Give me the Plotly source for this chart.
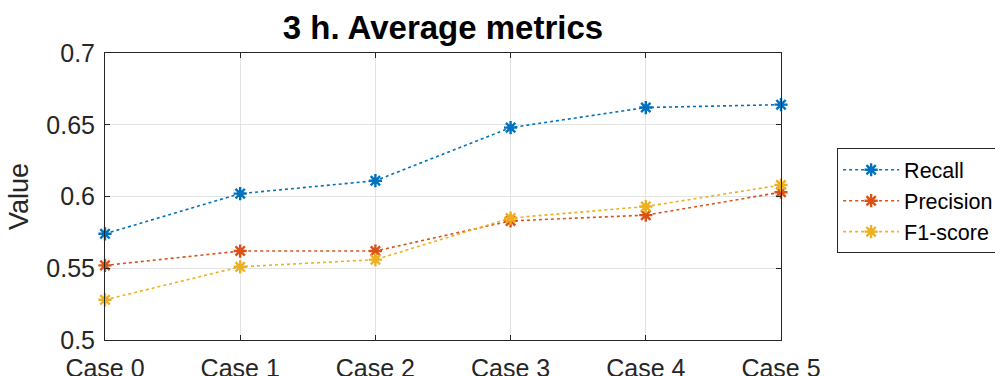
import plotly.graph_objects as go

cases = ["Case 0", "Case 1", "Case 2", "Case 3", "Case 4", "Case 5"]
recall = [0.574, 0.602, 0.611, 0.648, 0.662, 0.664]
precision = [0.552, 0.562, 0.562, 0.583, 0.587, 0.603]
f1_score = [0.528, 0.551, 0.556, 0.585, 0.593, 0.608]

series = [
    ("Recall", recall, "#0072BD"),
    ("Precision", precision, "#D95319"),
    ("F1-score", f1_score, "#EDB120"),
]

x_pos = list(range(len(cases)))
FAMILY = "Liberation Sans, Arial, sans-serif"

fig = go.Figure()
for name, vals, color in series:
    fig.add_trace(go.Scatter(
        x=x_pos, y=vals, name=name, mode="lines+markers",
        line=dict(color=color, width=1.6, dash="dot"),
        marker=dict(symbol="asterisk-open", size=11, color=color,
                    line=dict(color=color, width=2.4)),
        cliponaxis=False,
    ))

axis_font = dict(family=FAMILY, size=25, color="#262626")

fig.update_layout(
    width=995, height=376,
    margin=dict(l=105, r=214, t=53, b=36, autoexpand=False),
    paper_bgcolor="white", plot_bgcolor="white",
    title=dict(text="<b>3 h. Average metrics</b>", x=0.5, xref="paper", xanchor="center",
               y=0.928, yref="container", yanchor="middle",
               font=dict(family=FAMILY, size=33, color="black")),
    font=axis_font,
    showlegend=True,
    legend=dict(x=1.083, xanchor="left", y=0.668, yanchor="top",
                bordercolor="#262626", borderwidth=1, bgcolor="white",
                font=dict(family=FAMILY, size=21.5, color="black"),
                tracegroupgap=0, itemwidth=56),
)

fig.update_xaxes(
    range=[0, 5], tickvals=x_pos, ticktext=cases,
    showgrid=True, gridcolor="#e3e3e3", gridwidth=1,
    showline=True, linecolor="#262626", linewidth=1, mirror="ticks",
    ticks="inside", ticklen=5, tickcolor="#262626", ticklabelstandoff=6,
    tickfont=axis_font, zeroline=False, automargin=False,
)
fig.update_yaxes(
    range=[0.5, 0.7], tickvals=[0.5, 0.55, 0.6, 0.65, 0.7],
    ticktext=["0.5", "0.55", "0.6", "0.65", "0.7"],
    showgrid=True, gridcolor="#e3e3e3", gridwidth=1,
    showline=True, linecolor="#262626", linewidth=1, mirror="ticks",
    ticks="inside", ticklen=5, tickcolor="#262626", ticklabelstandoff=4,
    tickfont=axis_font, zeroline=False, automargin=False,
    title=dict(text="Value", font=dict(family=FAMILY, size=27, color="#262626"), standoff=9),
)

fig.write_html("out.html")
